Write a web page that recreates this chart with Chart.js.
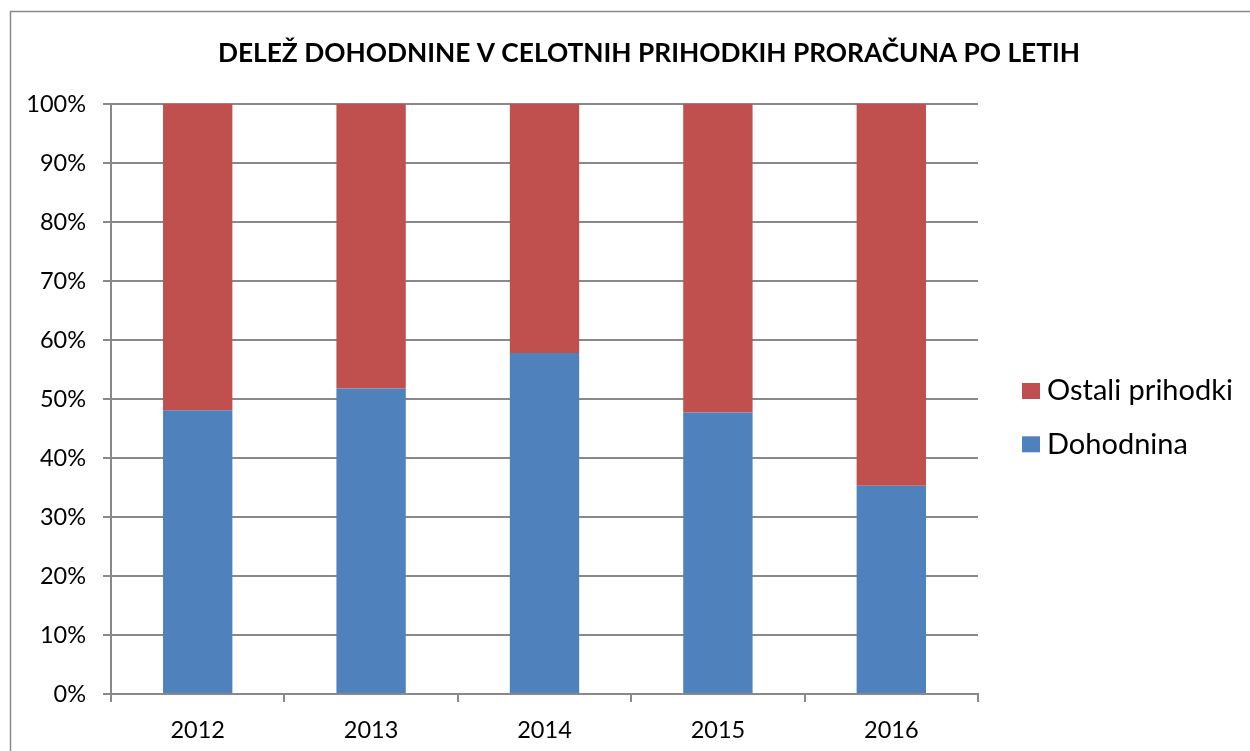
<!DOCTYPE html>
<html>
<head>
<meta charset="utf-8">
<script src="https://cdn.jsdelivr.net/npm/chart.js@4.4.1/dist/chart.umd.min.js"></script>
<style>
  body { margin: 0; background: #fff; overflow: hidden; }
  canvas { display: block; }
</style>
</head>
<body>
<canvas id="chart" width="1250" height="751"></canvas>
<script>
const chartTitle = 'DELEŽ DOHODNINE V CELOTNIH PRIHODKIH PRORAČUNA PO LETIH';
const years = ['2012', '2013', '2014', '2015', '2016'];
const dohodnina = [48.1, 51.8, 57.8, 47.7, 35.3];
const ostali = [51.9, 48.2, 42.2, 52.3, 64.7];
const seriesNames = ['Dohodnina', 'Ostali prihodki'];
const seriesColors = ['#4F81BD', '#C0504D'];

const gridGrey = '#898989';
const font = 'Lato';

// outer frame like the Excel chart border
const frame = {
  id: 'frame',
  beforeDraw(chart) {
    const ctx = chart.ctx;
    ctx.save();
    ctx.strokeStyle = gridGrey;
    ctx.lineWidth = 1.5;
    ctx.strokeRect(10.5, 11.5, 1300, 800);
    ctx.restore();
  }
};

// title is centred on the frame, not the plot, so draw it ourselves
const titleText = {
  id: 'titleText',
  afterDraw(chart) {
    const ctx = chart.ctx;
    ctx.save();
    ctx.font = 'bold 26.3px ' + font;
    ctx.fillStyle = '#000';
    ctx.textAlign = 'center';
    ctx.textBaseline = 'middle';
    ctx.fillText(chartTitle, 649, 54);
    ctx.restore();
  }
};

// legend on the right, top series first
const sideLegend = {
  id: 'sideLegend',
  afterDraw(chart) {
    const ctx = chart.ctx;
    const sets = chart.data.datasets.slice().reverse();
    ctx.save();
    ctx.font = '29px ' + font;
    ctx.textBaseline = 'middle';
    sets.forEach((ds, i) => {
      const top = 383 + i * 53.3;
      ctx.fillStyle = ds.backgroundColor;
      ctx.fillRect(1022, top, 18, 16);
      ctx.fillStyle = '#000';
      ctx.fillText(ds.label, 1047, top + 8);
    });
    ctx.restore();
  }
};

new Chart(document.getElementById('chart'), {
  type: 'bar',
  data: {
    labels: years,
    datasets: [
      { label: seriesNames[0], data: dohodnina, backgroundColor: seriesColors[0] },
      { label: seriesNames[1], data: ostali, backgroundColor: seriesColors[1] }
    ]
  },
  options: {
    responsive: false,
    animation: false,
    categoryPercentage: 1,
    barPercentage: 0.4,
    layout: { padding: { top: 104, right: 272, left: 0, bottom: 0 } },
    plugins: {
      legend: { display: false },
      title: { display: false },
      tooltip: { enabled: false }
    },
    scales: {
      x: {
        stacked: true,
        afterFit(scale) { scale.height = 57; },
        grid: { drawOnChartArea: false, drawTicks: true, tickLength: 8, color: gridGrey, lineWidth: 2 },
        border: { color: gridGrey, width: 2 },
        ticks: { color: '#000', padding: 14, font: { family: font, size: 23.5 } }
      },
      y: {
        stacked: true,
        min: 0,
        max: 100,
        afterFit(scale) { scale.width = 111; },
        grid: { color: gridGrey, lineWidth: 2, tickLength: 8 },
        border: { color: gridGrey, width: 2 },
        ticks: {
          stepSize: 10,
          color: '#000',
          padding: 17,
          font: { family: font, size: 23.5 },
          callback: v => v + '%'
        }
      }
    }
  },
  plugins: [frame, titleText, sideLegend]
});
</script>
</body>
</html>
